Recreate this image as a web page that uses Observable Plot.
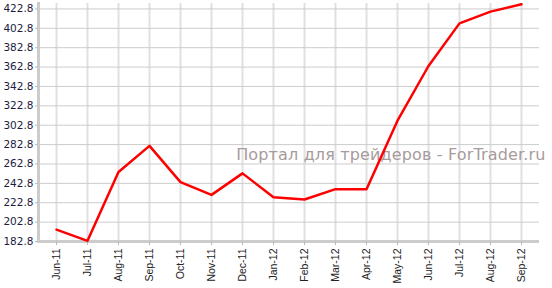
<!DOCTYPE html>
<html><head><meta charset="utf-8">
<script src="https://cdn.jsdelivr.net/npm/d3@7"></script>
<script src="https://cdn.jsdelivr.net/npm/@observablehq/plot@0.6"></script>
<style>
html,body{margin:0;padding:0;background:#fff;}
#chart{width:552px;height:288px;}
</style>
</head><body>
<div id="chart"></div>
<script>
const months = ["Jun-11","Jul-11","Aug-11","Sep-11","Oct-11","Nov-11","Dec-11","Jan-12","Feb-12","Mar-12","Apr-12","May-12","Jun-12","Jul-12","Aug-12","Sep-12"];
const values = [195.0, 183.5, 254.5, 281.5, 244.1, 230.9, 253.1, 228.5, 226.1, 236.8, 236.8, 307.5, 363.9, 407.9, 420.0, 427.6];
const yTicks = [182.8, 202.8, 222.8, 242.8, 262.8, 282.8, 302.8, 322.8, 342.8, 362.8, 382.8, 402.8, 422.8];
const watermark = "Портал для трейдеров - ForTrader.ru";

const data = months.map((m, i) => ({month: m, value: values[i]}));

const chart = Plot.plot({
  width: 552,
  height: 288,
  marginLeft: 38,
  marginRight: 13,
  marginTop: 3,
  marginBottom: 47,
  style: {fontFamily: "DejaVu Sans, sans-serif", background: "#fff", overflow: "visible"},
  x: {type: "point", domain: months, padding: 0.5, label: null},
  y: {domain: [182.8, 428.4], label: null},
  marks: [
    Plot.gridX({stroke: "#e0e0e0", strokeOpacity: 1, strokeWidth: 2}),
    Plot.gridY({ticks: yTicks, stroke: "#cccccc", strokeOpacity: 1, strokeWidth: 1}),
    Plot.text([watermark], {frameAnchor: "top-right", textAnchor: "end", lineAnchor: "bottom", dy: 156, dx: 6, fill: "#a89b9b", fontSize: 16, fontFamily: "DejaVu Sans, sans-serif", style: "letter-spacing:0.15px"}),
    Plot.frame({anchor: "left", stroke: "#cccccc", strokeWidth: 3}),
    Plot.ruleY([182.8], {stroke: "#cccccc", strokeWidth: 3}),
    Plot.axisY({ticks: yTicks, tickFormat: d => d.toFixed(1), tickSize: 3, tickPadding: 2, stroke: "#bbbbbb", fill: "#1c1c40", fontSize: 10.5, fontFamily: "DejaVu Sans, sans-serif", label: null}),
    Plot.axisX({tickRotate: -90, tickSize: 4, tickPadding: 3, stroke: "#bbbbbb", fill: "#222", fontSize: 10.5, fontFamily: "Liberation Sans, Arial, sans-serif", label: null}),
    Plot.line(data, {x: "month", y: "value", stroke: "#ff0000", strokeWidth: 2.5})
  ]
});
chart.querySelectorAll("text").forEach(t => { if (t.textContent === watermark) t.style.letterSpacing = "0.15px"; });
document.getElementById("chart").appendChild(chart);
</script>
</body></html>
